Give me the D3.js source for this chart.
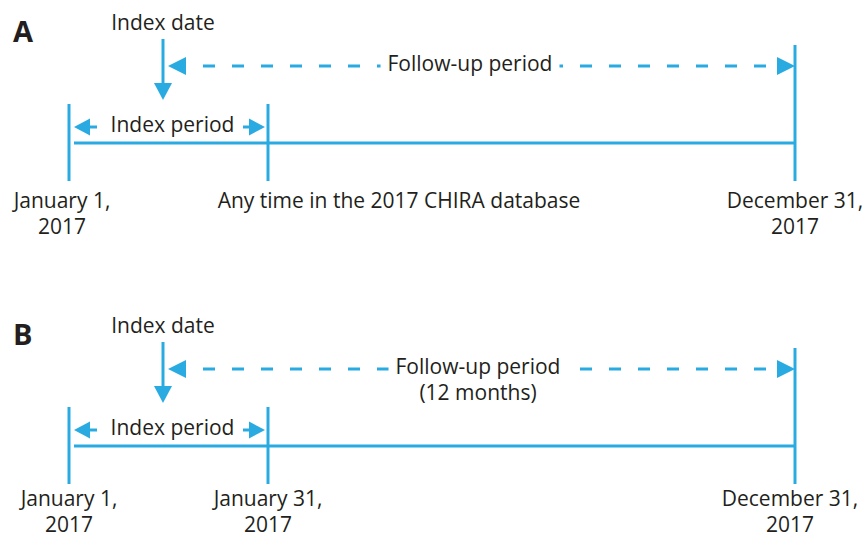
<!DOCTYPE html>
<html>
<head>
<meta charset="utf-8">
<script src="https://cdn.jsdelivr.net/npm/d3@7"></script>
<style>
  body { margin: 0; background: #fff; }
  text { font-family: "Open Sans", sans-serif; fill: #231f20; }
</style>
</head>
<body>
<div id="chart-area"></div>
<script>
// study design timelines, panels A and B
var panels = ["A", "B"];
var milestones = ["start", "index", "indexEnd", "end"];
var tickMilestones = ["start", "indexEnd", "end"];
var dateLabelsA = [["January 1,", "2017"], ["Any time in the 2017 CHIRA database"], ["December 31,", "2017"]];
var dateLabelsB = [["January 1,", "2017"], ["January 31,", "2017"], ["December 31,", "2017"]];
var followUpA = ["Follow-up period"];
var followUpB = ["Follow-up period", "(12 months)"];
var indexDateText = "Index date";
var indexPeriodText = "Index period";

var blue = "#29abe2";
var width = 865, height = 538;
var fs = 21;

// small layout nudges for the labels (px)
var nudge = {
  A: { dates: [-7, 131, 0], follow: -9, dateY: 208 },
  B: { dates: [0, 0, -5], follow: -1, dateY: 203 }
};

var svg = d3.select("#chart-area").append("svg")
    .attr("width", width)
    .attr("height", height);

var x = d3.scaleOrdinal()
    .domain(milestones)
    .range([69, 163, 268, 795]);

var y = d3.scalePoint()
    .domain(panels)
    .range([0, 303]);

// arrow head pointing at (tx,ty)
function head(tx, ty, dir, len, half) {
  var p;
  if (dir === "left") p = [[tx, ty], [tx + len, ty - half], [tx + len, ty + half]];
  else if (dir === "right") p = [[tx, ty], [tx - len, ty - half], [tx - len, ty + half]];
  else p = [[tx, ty], [tx - half, ty - len], [tx + half, ty - len]];
  return "M" + p.join("L") + "Z";
}

panels.forEach(function(p) {
  var g = svg.append("g").attr("transform", "translate(0," + y(p) + ")");
  var dates = p === "A" ? dateLabelsA : dateLabelsB;
  var follow = p === "A" ? followUpA : followUpB;

  // panel letter
  g.append("text")
      .attr("x", 13)
      .attr("y", 42)
      .attr("font-size", 29)
      .attr("font-weight", "bold")
      .text(p);

  // main timeline
  g.append("line")
      .attr("x1", x("start") + 5)
      .attr("x2", x("end"))
      .attr("y1", 143)
      .attr("y2", 143)
      .attr("stroke", blue)
      .attr("stroke-width", 3);

  g.selectAll(".tick")
    .data(tickMilestones)
    .enter()
    .append("line")
      .attr("class", "tick")
      .attr("x1", (d) => x(d))
      .attr("x2", (d) => x(d))
      .attr("y1", (d) => d === "end" ? 45 : 104)
      .attr("y2", 181)
      .attr("stroke", blue)
      .attr("stroke-width", 3);

  // date labels
  var lab = g.selectAll(".date")
    .data(dates)
    .enter()
    .append("text")
      .attr("class", "date")
      .attr("text-anchor", "middle")
      .attr("font-size", fs)
      .attr("x", (d, i) => x(tickMilestones[i]) + nudge[p].dates[i])
      .attr("y", nudge[p].dateY);
  lab.selectAll("tspan")
    .data((d) => d)
    .enter()
    .append("tspan")
      .attr("x", function() { return d3.select(this.parentNode).attr("x"); })
      .attr("dy", (d, i) => i === 0 ? 0 : 26)
      .text((d) => d);

  // index date
  g.append("text")
      .attr("x", x("index"))
      .attr("y", 30)
      .attr("text-anchor", "middle")
      .attr("font-size", fs)
      .text(indexDateText);
  g.append("line")
      .attr("x1", x("index"))
      .attr("x2", x("index"))
      .attr("y1", 39)
      .attr("y2", 86)
      .attr("stroke", blue)
      .attr("stroke-width", 3);
  g.append("path")
      .attr("d", head(x("index"), 100, "down", 17, 9))
      .attr("fill", blue);

  // follow-up period (dashed)
  var fy = 66;
  g.append("line")
      .attr("x1", x("index") + 23)
      .attr("x2", x("end") - 17)
      .attr("y1", fy)
      .attr("y2", fy)
      .attr("stroke", blue)
      .attr("stroke-width", 3)
      .attr("stroke-dasharray", "12,17")
      .attr("stroke-dashoffset", 12);
  g.append("path")
      .attr("d", head(x("index") + 5, fy, "left", 18, 9))
      .attr("fill", blue);
  g.append("path")
      .attr("d", head(x("end"), fy, "right", 18, 9))
      .attr("fill", blue);

  var fx = (x("index") + x("end")) / 2 + nudge[p].follow;
  var bg = g.append("rect").attr("fill", "#fff");
  var ft = g.append("text")
      .attr("text-anchor", "middle")
      .attr("font-size", fs)
      .attr("y", 71);
  ft.selectAll("tspan")
    .data(follow)
    .enter()
    .append("tspan")
      .attr("x", fx)
      .attr("dy", (d, i) => i === 0 ? 0 : 26)
      .text((d) => d);
  var bb = ft.node().getBBox();
  bg.attr("x", bb.x - 7)
    .attr("y", bb.y)
    .attr("width", bb.width + 14)
    .attr("height", bb.height);

  // index period
  var iy = 127;
  g.append("text")
      .attr("x", (x("start") + x("indexEnd")) / 2 + 4)
      .attr("y", 132)
      .attr("text-anchor", "middle")
      .attr("font-size", fs)
      .text(indexPeriodText);
  g.append("line")
      .attr("x1", x("start") + 18).attr("x2", x("start") + 28)
      .attr("y1", iy).attr("y2", iy)
      .attr("stroke", blue).attr("stroke-width", 3);
  g.append("line")
      .attr("x1", x("indexEnd") - 25).attr("x2", x("indexEnd") - 18)
      .attr("y1", iy).attr("y2", iy)
      .attr("stroke", blue).attr("stroke-width", 3);
  g.append("path")
      .attr("d", head(x("start") + 5, iy, "left", 16, 8.5))
      .attr("fill", blue);
  g.append("path")
      .attr("d", head(x("indexEnd") - 3, iy, "right", 16, 8.5))
      .attr("fill", blue);
});
</script>
</body>
</html>
